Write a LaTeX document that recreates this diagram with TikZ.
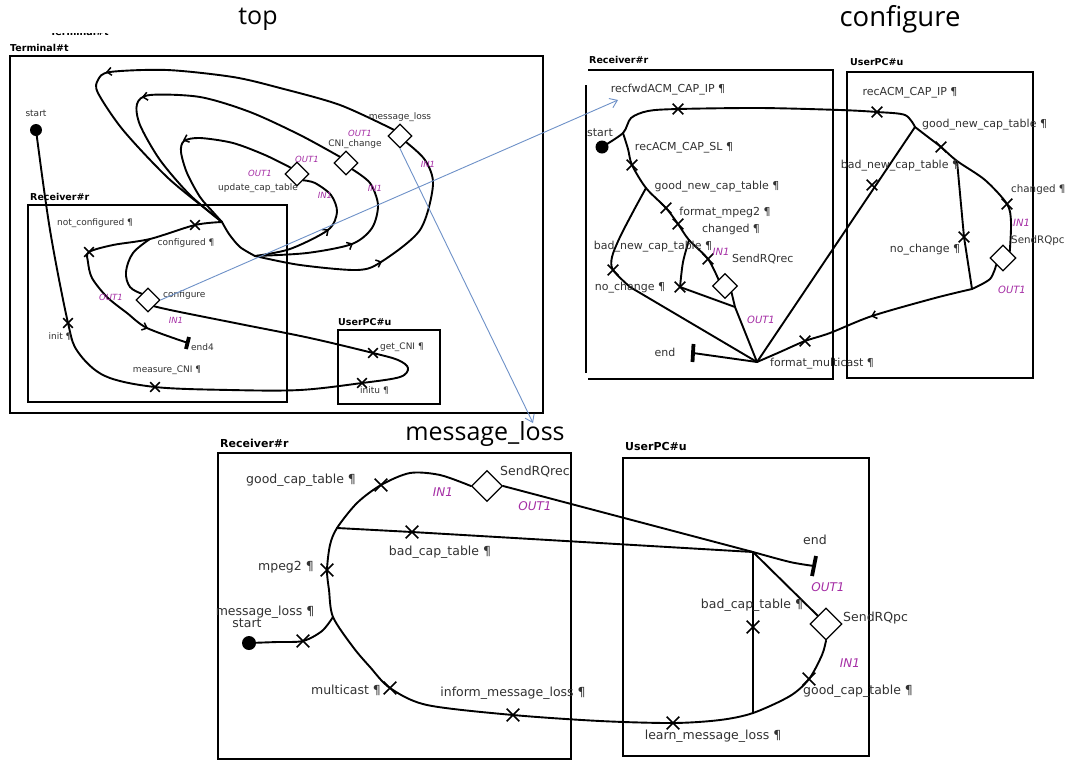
\documentclass[tikz,border=0pt]{standalone}
\usepackage{fontspec}
\setmainfont{DejaVu Sans}
\newfontfamily\ttlfont{Open Sans}
\usetikzlibrary{shapes.geometric,shapes.misc,arrows.meta}
\definecolor{magc}{RGB}{165,45,165}
\definecolor{bluec}{RGB}{110,145,200}
\definecolor{txtc}{RGB}{50,50,50}
\tikzset{
  wire/.style={line width=1.9pt, line join=round, line cap=round},
  boxframe/.style={line width=1.8pt},
  xm/.style={cross out, draw, line width=1.7pt, minimum size=#1, inner sep=0pt},
  xm/.default=8pt,
  dia/.style={diamond, draw, line width=1.2pt, fill=white, minimum width=#1, minimum height=#1, inner sep=0pt},
  startdot/.style={circle, fill=black, inner sep=0pt, minimum size=#1},
  endbar/.style={line width=3.8pt},
  labA/.style={font=\fontsize{9}{10}\selectfont, text=txtc, inner sep=0pt},
  labB/.style={font=\fontsize{11}{12}\selectfont, text=txtc, inner sep=0pt},
  labBs/.style={font=\fontsize{10.3}{12}\selectfont, text=txtc, inner sep=0pt},
  labC/.style={font=\fontsize{12.5}{14}\selectfont, text=txtc, inner sep=0pt},
  portA/.style={font=\fontsize{8.5}{10}\selectfont\itshape, text=magc, inner sep=0pt},
  portB/.style={font=\fontsize{10}{12}\selectfont\itshape, text=magc, inner sep=0pt},
  portC/.style={font=\fontsize{12}{14}\selectfont\itshape, text=magc, inner sep=0pt},
  boxlab/.style={font=\bfseries\fontsize{#1}{12}\selectfont, inner sep=0pt, anchor=west},
  ttl/.style={font=\ttlfont\fontsize{#1}{30}\selectfont, inner sep=0pt},
  bluelink/.style={draw=bluec, line width=0.9pt, -{Straight Barb[length=7pt,width=10pt]}},
  chev/.pic={\draw[line width=1.5pt, line join=miter] (-4.5pt,-4pt) -- (0pt,0pt) -- (-4.5pt,4pt);},
}
\begin{document}
\begin{tikzpicture}[x=1pt,y=-1pt]
\useasboundingbox (0,0) rectangle (1070,761);
\fill[white] (0,0) rectangle (1070,761);

% ================= titles
\node[ttl=25] (tt1) at (258,19) {top};
\node[ttl=27.5] (tt2) at (900,19) {configure};
\node[ttl=25] (tt3) at (485,434) {message\_loss};

% ================= TOP PANEL
\begin{scope}
\clip (40,33) rectangle (120,39);
\node[boxlab=9.5] (ghost) at (50,32) {Terminal\#t};
\end{scope}
\node[boxlab=9.5] (bT) at (10,48) {Terminal\#t};
\draw[boxframe] (10,56) rectangle (543,413);
\node[boxlab=9.5] (bTR) at (30,197) {Receiver\#r};
\draw[boxframe] (28,205) rectangle (287,402);
\node[boxlab=9.5] (bTU) at (338,322) {UserPC\#u};
\draw[boxframe] (338,330) rectangle (440,404);

\coordinate (tStart) at (36,130);
\coordinate (tInit) at (68,323);
\coordinate (tMeas) at (155,387);
\coordinate (tInitu) at (362,383);
\coordinate (tTip) at (408,368);
\coordinate (tGet) at (373,353);
\coordinate (tK) at (222,222);
\coordinate (tJ) at (255,256);
\coordinate (tConf) at (195,225);
\coordinate (tB) at (150,239);
\coordinate (tNotc) at (89,252);
\coordinate (tEnd4) at (188,343);
\node[dia=24pt] (tCfg) at (148,300) {};
\node[dia=24pt] (tUpd) at (297,174) {};
\node[dia=24pt] (tCni) at (346,163) {};
\node[dia=24pt] (tMl) at (400,136) {};

\draw[wire] plot[smooth, tension=0.55] coordinates {(tStart) (50,230) (tInit) (78,352) (105,376) (tMeas) (230,390) (300,390) (tInitu) (400,377) (tTip) (398,360) (tGet) (310,338) (240,324) (175,311) (tCfg.south east)};
\draw[wire] plot[smooth, tension=0.5] coordinates {(tK) (tConf) (tB) (113,245) (tNotc) (88,262) (92,278) (107,297) (127,313) (147,328) (tEnd4)};
\draw[wire] plot[smooth, tension=0.6] coordinates {(tB) (133,253) (126,272) (130,287) (tCfg.north west)};
\draw[endbar] (tEnd4) +(1,-6) -- +(-2,6);
\draw[wire] plot[smooth] coordinates {(tK) (229,234) (240,247) (tJ)};
% inner loop
\draw[wire] plot[smooth] coordinates {(tJ) (290,249) (328,230) (337,212) (331,195) (315,183) (tUpd.south east)};
\draw[wire] plot[smooth] coordinates {(tUpd.north west) (265,155) (233,143) (200,138) (184,141) (181,152) (187,173) (200,197) (213,212) (tK)};
% middle loop
\draw[wire] plot[smooth] coordinates {(tJ) (307,253) (352,244) (372,228) (378,205) (370,183) (tCni.south east)};
\draw[wire] plot[smooth] coordinates {(tCni.north west) (300,135) (250,112) (200,97) (150,95) (137,104) (140,125) (160,160) (190,195) (tK)};
% outer loop
\draw[wire] plot[smooth] coordinates {(tJ) (300,265) (357,270) (381,262) (420,230) (433,185) (425,160) (tMl.south east)};
\draw[wire] plot[smooth] coordinates {(tMl.north west) (340,105) (280,88) (233,77) (167,70) (110,72) (98,80) (98,93) (123,130) (167,177) (207,210) (tK)};

\node[startdot=12pt] (tDot) at (tStart) {};
\foreach \p/\n in {tInit/x1, tMeas/x2, tInitu/x3, tGet/x4, tConf/x5, tNotc/x6}
  \node[xm=8pt] (\n) at (\p) {};
\pic[rotate=-172] at (107,72) {chev};
\pic[rotate=-170] at (143,97) {chev};
\pic[rotate=-160] at (184,140) {chev};
\pic[rotate=37] at (328,230) {chev};
\pic[rotate=27] at (352,244) {chev};
\pic[rotate=22] at (381,262) {chev};
\pic[rotate=-22] at (147,328) {chev};

\node[labA] (lt1) at (36,113) {start};
\node[labA] (lt2) at (95,223) {not\_configured ¶};
\node[labA] (lt3) at (186,243) {configured ¶};
\node[portA] (lt4) at (111,297) {OUT1};
\node[labA, anchor=west] (lt5) at (163,295) {configure};
\node[portA] (lt6) at (176,320) {IN1};
\node[labA] (lt7) at (60,337) {init ¶};
\node[labA, anchor=west] (lt8) at (191,347) {end4};
\node[labA] (lt9) at (167,370) {measure\_CNI ¶};
\node[labA, anchor=west] (lt10) at (380,347) {get\_CNI ¶};
\node[labA, anchor=west] (lt11) at (360,391) {initu ¶};
\node[labA] (lt12) at (258,188) {update\_cap\_table};
\node[portA] (lt13) at (260,173) {OUT1};
\node[portA] (lt14) at (325,195) {IN1};
\node[labA] (lt15) at (355,144) {CNI\_change};
\node[portA] (lt16) at (307,159) {OUT1};
\node[portA] (lt17) at (375,188) {IN1};
\node[labA] (lt18) at (400,117) {message\_loss};
\node[portA] (lt19) at (360,133) {OUT1};
\node[portA] (lt20) at (428,164) {IN1};

% ================= CONFIGURE PANEL
\node[boxlab=9.5] (bCR) at (589,60) {Receiver\#r};
\draw[boxframe] (588,70) -- (833,70) -- (833,379) -- (588,379);
\draw[boxframe] (586,85) -- (586,373);
\node[boxlab=9.5] (bCU) at (850,62) {UserPC\#u};
\draw[boxframe] (847,72) rectangle (1033,378);

\coordinate (cStart) at (602,147);
\coordinate (cS1) at (623,133);
\coordinate (cRecfwd) at (678,109);
\coordinate (cRecACM) at (877,112);
\coordinate (cG) at (915,127);
\coordinate (cSL) at (632,165);
\coordinate (cP1) at (646,188);
\coordinate (cGood) at (666,208);
\coordinate (cFmt) at (678,224);
\coordinate (cP2) at (689,240);
\coordinate (cChg) at (708,259);
\coordinate (cBad) at (613,270);
\coordinate (cNoch) at (680,287);
\coordinate (cQ) at (735,307);
\coordinate (cM) at (757,362);
\coordinate (cEnd) at (693,353);
\coordinate (cBadU) at (872,185);
\coordinate (cFm) at (805,341);
\coordinate (cJ3) at (972,289);
\coordinate (cGoodU) at (941,147);
\coordinate (cP3) at (957,161);
\coordinate (cChgU) at (1007,204);
\coordinate (cNoU) at (964,237);
\node[dia=25pt] (cRq) at (725,286) {};
\node[dia=26pt] (cRp) at (1003,258) {};

\draw[wire] plot[smooth] coordinates {(cStart) (cS1) (631,118) (648,111) (cRecfwd) (760,108) (840,110) (cRecACM) (905,115) (cG)};
\draw[wire] plot[smooth] coordinates {(cS1) (628,149) (cSL) (cP1) (cGood) (cFmt) (cP2) (cChg) (cRq.north west)};
\draw[wire] plot[smooth] coordinates {(cP1) (634,210) (620,237) (612,257) (cBad) (630,287)} -- (cM);
\draw[wire] plot[smooth] coordinates {(cP2) (683,262) (cNoch)} -- (cQ) -- (cM);
\draw[wire] (cRq.south east) -- (cQ);
\draw[wire] (cM) -- (cEnd);
\draw[endbar] (cEnd) +(0.5,-9) -- +(-0.5,9);
\draw[wire] (cM) -- (cG);
\draw[wire] plot[smooth] coordinates {(cM) (780,352) (cFm) (830,333) (872,316) (935,298) (cJ3)};
\draw[wire] plot[smooth] coordinates {(cJ3) (990,279) (cRp.south west)};
\draw[wire] plot[smooth] coordinates {(cG) (928,137) (cGoodU) (cP3) (985,180) (cChgU) (1011,222) (cRp.north east)};
\draw[wire] (cP3) -- (cNoU) -- (cJ3);

\node[startdot=13pt] (cDot) at (cStart) {};
\foreach \p/\n in {cRecfwd/y1, cRecACM/y2, cSL/y3, cGood/y4, cFmt/y5, cChg/y6, cBad/y7, cNoch/y8, cBadU/y9, cFm/y10, cGoodU/y11, cChgU/y12, cNoU/y13}
  \node[xm=9pt] (\n) at (\p) {};
\pic[rotate=-163] at (872,316) {chev};

\node[labB] (lc1) at (668,90) {recfwdACM\_CAP\_IP ¶};
\node[labB] (lc2) at (600,133) {start};
\node[labB] (lc3) at (684,148) {recACM\_CAP\_SL ¶};
\node[labB] (lc4) at (717,187) {good\_new\_cap\_table ¶};
\node[labB] (lc5) at (725,213) {format\_mpeg2 ¶};
\node[labB] (lc6) at (731,229) {changed ¶};
\node[labB] (lc7) at (653,247) {bad\_new\_cap\_table ¶};
\node[portB] (lc8) at (721,252) {IN1};
\node[labB, anchor=west] (lc9) at (732,259) {SendRQrec};
\node[labB] (lc10) at (630,288) {no\_change ¶};
\node[portB] (lc11) at (761,320) {OUT1};
\node[labB] (lc12) at (665,352) {end};
\node[labB, anchor=west] (lc13) at (770,364) {format\_multicast ¶};
\node[labB] (lc14) at (910,93) {recACM\_CAP\_IP ¶};
\node[labB, anchor=west] (lc15) at (922,125) {good\_new\_cap\_table ¶};
\node[labB] (lc16) at (900,166) {bad\_new\_cap\_table ¶};
\node[labBs, anchor=west] (lc17) at (1011,190) {changed ¶};
\node[portB, anchor=west] (lc18) at (1013,223) {IN1};
\node[labBs, anchor=west] (lc19) at (1011,241) {SendRQpc};
\node[labB] (lc20) at (925,250) {no\_change ¶};
\node[portB] (lc21) at (1012,290) {OUT1};

% ================= MESSAGE_LOSS PANEL
\node[boxlab=11] (bMR) at (220,443) {Receiver\#r};
\draw[boxframe] (218,453) rectangle (571,759);
\node[boxlab=11] (bMU) at (625,446) {UserPC\#u};
\draw[boxframe] (623,458) rectangle (869,756);

\coordinate (mStart) at (249,643);
\coordinate (mSm) at (303,641);
\coordinate (mJ1) at (333,617);
\coordinate (mMp) at (327,570);
\coordinate (mJ2) at (337,528);
\coordinate (mGd) at (381,485);
\coordinate (mBc) at (412,532);
\coordinate (mJ2u) at (753,552);
\coordinate (mEnd) at (814,566);
\coordinate (mMc) at (390,688);
\coordinate (mIml) at (513,715);
\coordinate (mLml) at (673,723);
\coordinate (mJ3) at (753,713);
\coordinate (mGcU) at (809,679);
\coordinate (mBcU) at (753,627);
\node[dia=31pt] (mRq) at (487,486) {};
\node[dia=32pt] (mRp) at (826,624) {};

\draw[wire] plot[smooth] coordinates {(mStart) (277,642) (mSm) (322,631) (mJ1)};
\draw[wire] plot[smooth] coordinates {(mRq.west) (440,475) (410,473) (mGd) (357,503) (mJ2) (330,545) (mMp) (329,590) (mJ1) (353,647) (370,667) (mMc) (427,705) (mIml) (600,721) (mLml) (720,720) (mJ3) (790,696) (mGcU) (822,655) (mRp.south)};
\draw[wire] (mJ2) -- (mBc) -- (mJ2u);
\draw[wire] (mRq.east) -- (mJ2u);
\draw[wire] plot[smooth] coordinates {(mJ2u) (790,562) (mEnd)};
\draw[endbar] (mEnd) +(2,-10) -- +(-2,10);
\draw[wire] (mJ2u) -- (mBcU) -- (mJ3);
\draw[wire] (mJ2u) -- (mRp.north west);

\node[startdot=14pt] (mDot) at (mStart) {};
\foreach \p/\n in {mSm/z1, mMp/z2, mGd/z3, mBc/z4, mMc/z5, mIml/z6, mLml/z7, mGcU/z8, mBcU/z9}
  \node[xm=11pt] (\n) at (\p) {};

\node[labC, anchor=west] (lm1) at (246,480) {good\_cap\_table ¶};
\node[labC, anchor=west] (lm2) at (500,472) {SendRQrec};
\node[portC] (lm3) at (443,492) {IN1};
\node[portC] (lm4) at (535,506) {OUT1};
\node[labC] (lm5) at (440,552) {bad\_cap\_table ¶};
\node[labC] (lm6) at (286,567) {mpeg2 ¶};
\node[labC] (lm7) at (265,612) {message\_loss ¶};
\node[labC] (lm8) at (247,623) {start};
\node[labC] (lm9) at (346,690) {multicast ¶};
\node[labC] (lm10) at (513,693) {inform\_message\_loss ¶};
\node[labC] (lm11) at (713,736) {learn\_message\_loss ¶};
\node[labC, anchor=west] (lm12) at (803,691) {good\_cap\_table ¶};
\node[portC] (lm13) at (850,663) {IN1};
\node[labC] (lm14) at (752,605) {bad\_cap\_table ¶};
\node[labC, anchor=west] (lm15) at (843,618) {SendRQpc};
\node[labC] (lm16) at (815,540) {end};
\node[portC] (lm17) at (828,587) {OUT1};

% ================= blue links
\coordinate (cArrow) at (618,100);
\coordinate (mArrow) at (533,423);
\draw[bluelink] (tCfg.east) -- (cArrow);
\draw[bluelink] (tMl.south) -- (mArrow);
\end{tikzpicture}
\end{document}
